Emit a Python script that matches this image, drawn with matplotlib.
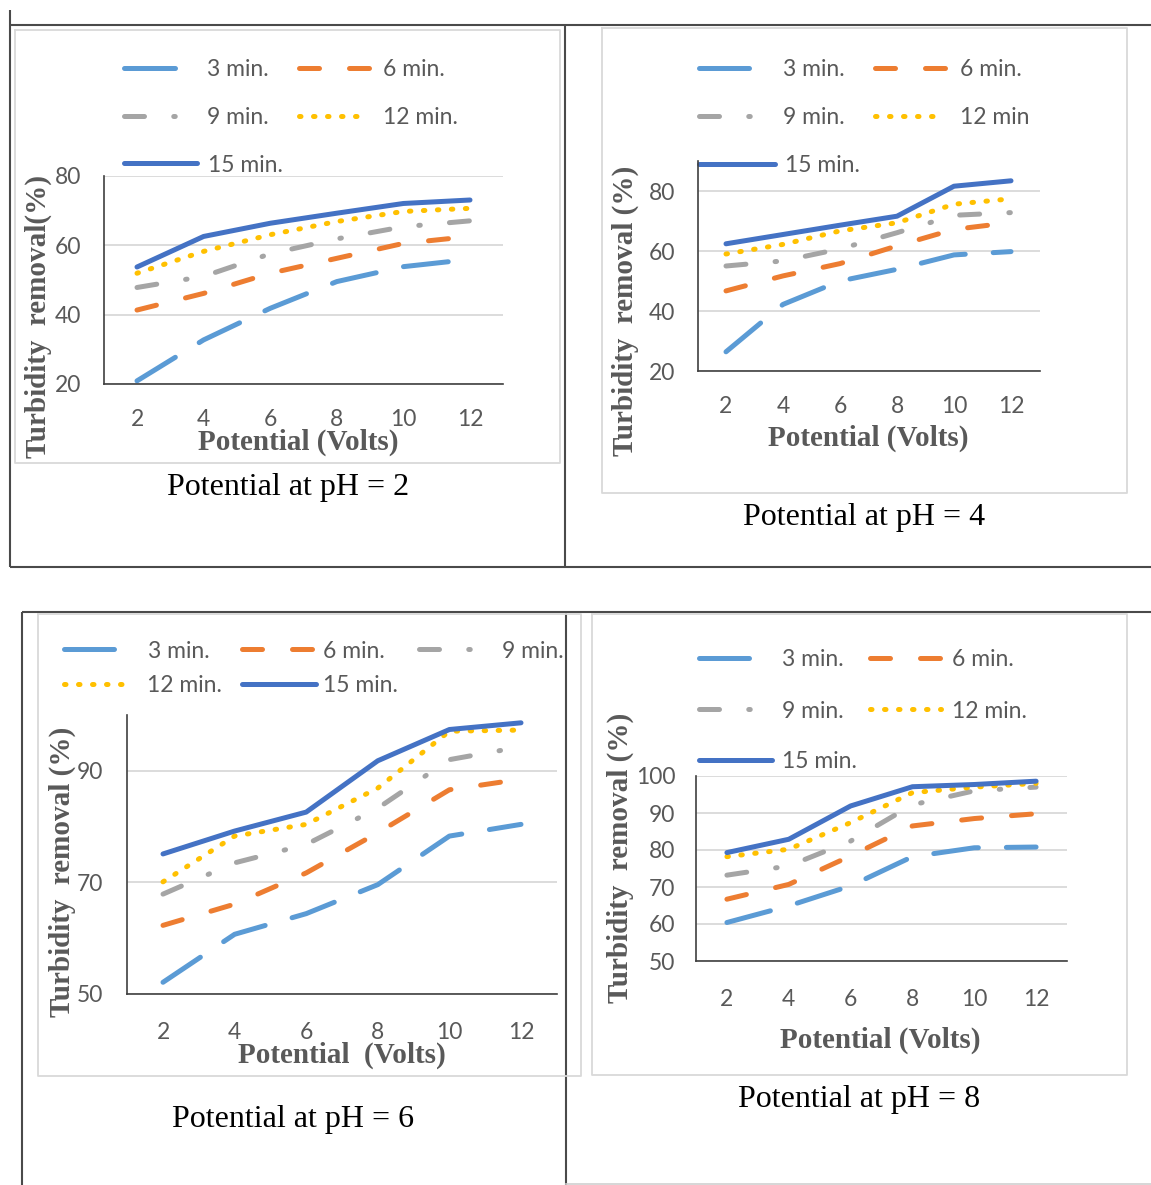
import numpy as np
import matplotlib
matplotlib.use('Agg')
import matplotlib.pyplot as plt

# canvas size in pixels
W, H = 1151, 1185
DPI = 100

# ---- data ----
volts = [2, 4, 6, 8, 10, 12]
series_keys = ['3', '6', '9', '12', '15']

ph2_3min = [20.9, 32.7, 41.8, 49.5, 53.8, 55.9]
ph2_6min = [41.3, 46.1, 51.9, 56.2, 60.5, 62.5]
ph2_9min = [47.8, 51.0, 57.5, 61.8, 65.3, 67.0]
ph2_12min = [51.9, 58.2, 63.0, 66.8, 69.7, 70.6]
ph2_15min = [53.7, 62.5, 66.3, 69.2, 72.0, 73.0]

ph4_3min = [26.4, 42.2, 50.0, 53.9, 58.7, 59.8]
ph4_6min = [46.7, 51.7, 55.8, 61.7, 67.2, 69.5]
ph4_9min = [55.0, 56.7, 60.7, 66.1, 71.9, 72.8]
ph4_12min = [59.0, 62.2, 66.7, 69.4, 75.6, 77.4]
ph4_15min = [62.4, 65.5, 68.6, 71.6, 81.6, 83.4]

ph6_3min = [52.1, 60.7, 64.4, 69.6, 78.3, 80.4]
ph6_6min = [62.3, 66.1, 71.7, 78.9, 86.6, 88.5]
ph6_9min = [67.9, 73.5, 76.8, 83.3, 92.0, 94.3]
ph6_12min = [70.1, 78.3, 80.4, 86.9, 97.1, 97.3]
ph6_15min = [75.1, 79.2, 82.6, 91.8, 97.4, 98.6]

ph8_3min = [60.4, 64.9, 70.3, 78.2, 80.6, 80.8]
ph8_6min = [66.7, 70.7, 78.4, 86.5, 88.5, 89.8]
ph8_9min = [73.2, 75.7, 82.4, 92.2, 96.0, 97.0]
ph8_12min = [78.2, 80.2, 87.4, 95.5, 97.0, 98.0]
ph8_15min = [79.3, 82.9, 91.9, 97.1, 97.7, 98.6]

# ---- styles ----
LW = 3.6
GRAY_TXT = '#595959'
TICK_FONT = 'Lato'
SERIF = 'Liberation Serif'
styles = {
    '3': dict(color='#5B9BD5', dashes=(9, 5.6)),
    '6': dict(color='#ED7D31', dashes=(4, 6)),
    '9': dict(color='#A5A5A5', dashes=(4, 5.85, 0.3, 5.85)),
    '12': dict(color='#FFC000', dashes=(0.3, 2.5)),
    '15': dict(color='#4472C4', dashes=None),
}


def px_rect(x0, y0, x1, y1):
    # pixel box (top-left origin) -> figure fraction rect
    return [x0 / W, 1 - y1 / H, (x1 - x0) / W, (y1 - y0) / H]


def style_line(line, key):
    st = styles[key]
    line.set_color(st['color'])
    line.set_linewidth(LW)
    line.set_dash_capstyle('round')
    line.set_solid_capstyle('round')
    line.set_solid_joinstyle('round')
    line.set_dash_joinstyle('round')
    if st['dashes'] is not None:
        line.set_dashes(st['dashes'])


fig = plt.figure(figsize=(W / DPI, H / DPI), dpi=DPI)
fig.patch.set_facecolor('white')

# background overlay in pixel coordinates: table lines, chart frames, legends, captions
bg = fig.add_axes([0, 0, 1, 1], zorder=0)
bg.set_xlim(0, W)
bg.set_ylim(H, 0)
bg.axis('off')

table_col = '#4a4a4a'
for (xa, ya, xb, yb) in [(10, 25, 1151, 25), (10, 10, 10, 567), (565, 25, 565, 567),
                         (10, 567, 1151, 567), (22, 612, 1151, 612), (22, 612, 22, 1185),
                         (566, 612, 566, 1185)]:
    bg.plot([xa, xb], [ya, yb], color=table_col, lw=1.5, solid_capstyle='butt')
bg.plot([566, 1151], [1184, 1184], color='#cfcfcf', lw=1.2)

frame_col = '#D9D9D9'
for (x0, y0, x1, y1) in [(15, 30, 560, 463), (602, 28, 1127, 493),
                         (38, 614, 581, 1076), (592, 614, 1127, 1075)]:
    bg.plot([x0, x1, x1, x0, x0], [y0, y0, y1, y1, y0], color=frame_col, lw=1.3)


def draw_legend(entries):
    for key, xa, xb, y, tx, label in entries:
        end = xb + 1 if key == '9' else xb - 2.5
        ln, = bg.plot([xa + 2.5, end], [y, y])
        style_line(ln, key)
        if key == '3':
            ln.set_linestyle('-')
        bg.text(tx, y + 2, label, fontsize=16.5, family=TICK_FONT, color=GRAY_TXT,
                ha='left', va='center')


legend_p1 = [('3', 122, 178, 68, 207, '3 min.'), ('6', 297, 372, 68, 383, '6 min.'),
             ('9', 122, 177, 116, 207, '9 min.'), ('12', 297, 372, 116, 383, '12 min.'),
             ('15', 122, 200, 163, 208, '15 min.')]
legend_p2 = [('3', 697, 752, 68, 783, '3 min.'), ('6', 873, 948, 68, 960, '6 min.'),
             ('9', 697, 752, 116, 783, '9 min.'), ('12', 873, 948, 116, 960, '12 min'),
             ('15', 697, 778, 164, 785, '15 min.')]
legend_p3 = [('3', 62, 117, 649, 148, '3 min.'), ('6', 240, 316, 649, 323, '6 min.'),
             ('9', 417, 470, 649, 502, '9 min.'), ('12', 62, 137, 684, 147, '12 min.'),
             ('15', 240, 319, 684, 323, '15 min.')]
legend_p4 = [('3', 697, 752, 658, 782, '3 min.'), ('6', 868, 944, 658, 952, '6 min.'),
             ('9', 697, 750, 709, 782, '9 min.'), ('12', 868, 944, 709, 952, '12 min.'),
             ('15', 697, 775, 760, 782, '15 min.')]
for lg in (legend_p1, legend_p2, legend_p3, legend_p4):
    draw_legend(lg)

# panel definitions: data, plot-area pixels, y range, y ticks, label positions
panels = [
    dict(data=[ph2_3min, ph2_6min, ph2_9min, ph2_12min, ph2_15min],
         box=(103.7, 175.7, 503.3, 384), ylim=(20, 80), yticks=[20, 40, 60, 80],
         xpad=18, ypad=16, ylabel='Turbidity  removal(%)', ylab_xy=(38, 316),
         xlabel='Potential (Volts)', xlab_xy=(298, 442),
         caption='Potential at pH = 2', cap_xy=(288, 487)),
    dict(data=[ph4_3min, ph4_6min, ph4_9min, ph4_12min, ph4_15min],
         box=(697.5, 161, 1039.5, 371), ylim=(20, 90), yticks=[20, 40, 60, 80],
         xpad=18, ypad=16, ylabel='Turbidity  removal (%)', ylab_xy=(625, 311),
         xlabel='Potential (Volts)', xlab_xy=(868, 438),
         caption='Potential at pH = 4', cap_xy=(864, 517)),
    dict(data=[ph6_3min, ph6_6min, ph6_9min, ph6_12min, ph6_15min],
         box=(127.2, 715, 556.8, 994), ylim=(50, 100), yticks=[50, 70, 90],
         xpad=20, ypad=17, ylabel='Turbidity  removal (%)', ylab_xy=(62, 872),
         xlabel='Potential  (Volts)', xlab_xy=(342, 1055),
         caption='Potential at pH = 6', cap_xy=(293, 1119)),
    dict(data=[ph8_3min, ph8_6min, ph8_9min, ph8_12min, ph8_15min],
         box=(696, 776, 1067, 961), ylim=(50, 100), yticks=[50, 60, 70, 80, 90, 100],
         xpad=20, ypad=15, ylabel='Turbidity  removal (%)', ylab_xy=(620, 858),
         xlabel='Potential (Volts)', xlab_xy=(880, 1040),
         caption='Potential at pH = 8', cap_xy=(859, 1099)),
]

xpos = np.arange(len(volts))
for p in panels:
    ax = fig.add_axes(px_rect(*p['box']), zorder=1)
    ax.set_facecolor('none')
    for key, vals in zip(series_keys, p['data']):
        ln, = ax.plot(xpos, vals)
        style_line(ln, key)
    ax.set_xlim(-0.5, len(volts) - 0.5)
    ax.set_ylim(*p['ylim'])
    ax.set_xticks(xpos)
    ax.set_xticklabels([str(v) for v in volts])
    ax.set_yticks(p['yticks'])
    ax.yaxis.grid(True, color='#D9D9D9', lw=1.3)
    ax.set_axisbelow(True)
    for s in ('top', 'right'):
        ax.spines[s].set_visible(False)
    for s in ('left', 'bottom'):
        ax.spines[s].set_color('#404040')
        ax.spines[s].set_linewidth(1.2)
    ax.tick_params(axis='x', length=0, pad=p['xpad'], labelsize=16.5, labelcolor=GRAY_TXT)
    ax.tick_params(axis='y', length=0, pad=p['ypad'], labelsize=16.5, labelcolor=GRAY_TXT)
    for t in ax.get_xticklabels() + ax.get_yticklabels():
        t.set_family(TICK_FONT)

    bg.text(p['xlab_xy'][0], p['xlab_xy'][1], p['xlabel'], family=SERIF, weight='bold',
            fontsize=21, color=GRAY_TXT, ha='center', va='center')
    bg.text(p['ylab_xy'][0], p['ylab_xy'][1], p['ylabel'], family=SERIF, weight='bold',
            fontsize=21, color=GRAY_TXT, ha='center', va='center', rotation=90)
    bg.text(p['cap_xy'][0], p['cap_xy'][1], p['caption'], family=SERIF,
            fontsize=23, color='black', ha='center', va='center')

fig.savefig('out.png', dpi=DPI, facecolor='white')
